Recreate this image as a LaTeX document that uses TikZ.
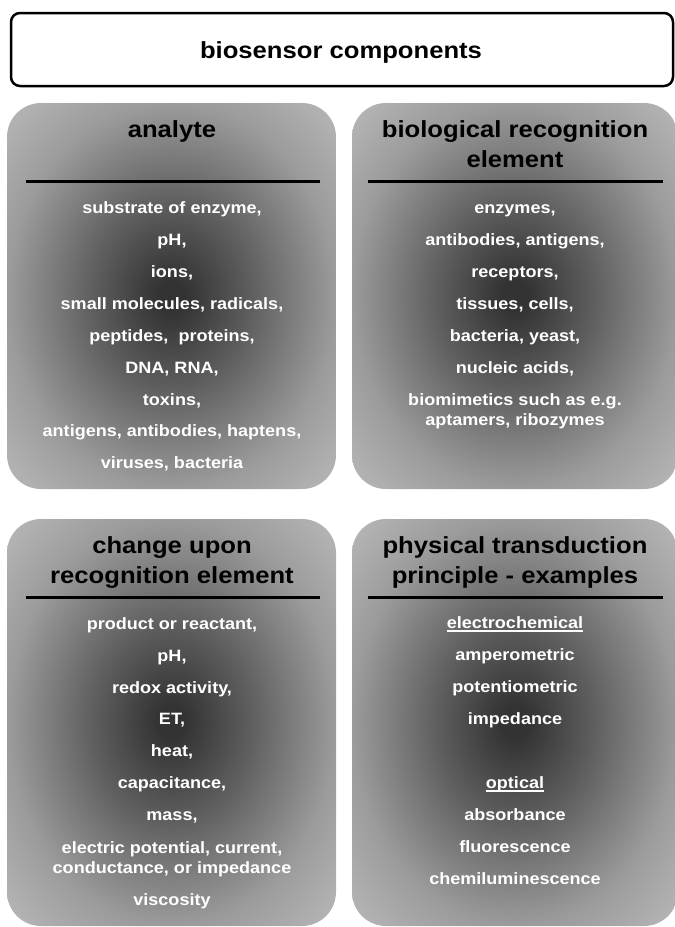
\documentclass[tikz,border=0pt]{standalone}
\usepackage{fontspec}
\setmainfont{Liberation Sans}[FakeStretch=1.1]
\definecolor{cin}{gray}{0.20}
\definecolor{cq}{gray}{0.37}
\definecolor{cmid}{gray}{0.61}
\definecolor{cout}{gray}{0.73}
\pgfdeclareradialshading{panelshade}{\pgfpoint{0bp}{0bp}}{color(0bp)=(cin); color(2bp)=(cin); color(12bp)=(cq); color(25bp)=(cmid); color(36bp)=(cout); color(50bp)=(cout)}
\tikzset{
  panel/.style={shading=panelshade, rounded corners=34pt},
  item/.style={text=white, font=\fontsize{16.4}{20}\selectfont\bfseries, anchor=base, inner sep=0pt},
  head/.style={text=black, font=\fontsize{23.3}{28}\selectfont\bfseries, anchor=base, inner sep=0pt},
  rule/.style={line width=3pt, black},
  uline/.style={white, line width=1.2pt}
}
\begin{document}
\begin{tikzpicture}[x=1pt,y=1pt]
\useasboundingbox (0,0) rectangle (675,-927);
% title
\draw[line width=2.5pt, rounded corners=9pt] (11,-13) rectangle (673,-86);
\node[head] (title) at (341,-58) {biosensor components};
% panels
\path[panel] (7,-103) rectangle (336,-489);
\path[panel] (352,-103) rectangle (678,-489);
\path[panel] (7,-519) rectangle (336,-926);
\path[panel] (352,-519) rectangle (678,-926);
% rules
\draw[rule] (26,-181) -- (320,-181);
\draw[rule] (368,-181) -- (663,-181);
\draw[rule] (26,-597) -- (320,-597);
\draw[rule] (368,-597) -- (663,-597);
% panel 1
\node[head] (h1) at (172,-137) {analyte};
\node[item] (a1) at (172,-213) {substrate of enzyme,};
\node[item] (a2) at (172,-245) {pH,};
\node[item] (a3) at (172,-277) {ions,};
\node[item] (a4) at (172,-309) {small molecules, radicals,};
\node[item] (a5) at (172,-341) {peptides,\ \ proteins,};
\node[item] (a6) at (172,-373) {DNA, RNA,};
\node[item] (a7) at (172,-405) {toxins,};
\node[item] (a8) at (172,-436) {antigens, antibodies, haptens,};
\node[item] (a9) at (172,-468) {viruses, bacteria};
% panel 2
\node[head] (h2a) at (515,-137) {biological recognition};
\node[head] (h2b) at (515,-167) {element};
\node[item] (b1) at (515,-213) {enzymes,};
\node[item] (b2) at (515,-245) {antibodies, antigens,};
\node[item] (b3) at (515,-277) {receptors,};
\node[item] (b4) at (515,-309) {tissues, cells,};
\node[item] (b5) at (515,-341) {bacteria, yeast,};
\node[item] (b6) at (515,-373) {nucleic acids,};
\node[item] (b7) at (515,-405) {biomimetics such as e.g.};
\node[item] (b8) at (515,-425) {aptamers, ribozymes};
% panel 3
\node[head] (h3a) at (172,-553) {change upon};
\node[head] (h3b) at (172,-583) {recognition element};
\node[item] (c1) at (172,-629) {product or reactant,};
\node[item] (c2) at (172,-661) {pH,};
\node[item] (c3) at (172,-693) {redox activity,};
\node[item] (c4) at (172,-724) {ET,};
\node[item] (c5) at (172,-756) {heat,};
\node[item] (c6) at (172,-788) {capacitance,};
\node[item] (c7) at (172,-820) {mass,};
\node[item] (c8) at (172,-853) {electric potential, current,};
\node[item] (c9) at (172,-873) {conductance, or impedance};
\node[item] (c10) at (172,-905) {viscosity};
% panel 4
\node[head] (h4a) at (515,-553) {physical transduction};
\node[head] (h4b) at (515,-583) {principle - examples};
\node[item] (d1) at (515,-628) {electrochemical};
\node[item] (d2) at (515,-660) {amperometric};
\node[item] (d3) at (515,-692) {potentiometric};
\node[item] (d4) at (515,-724) {impedance};
\node[item] (d5) at (515,-788) {optical};
\node[item] (d6) at (515,-820) {absorbance};
\node[item] (d7) at (515,-852) {fluorescence};
\node[item] (d8) at (515,-884) {chemiluminescence};
\draw[uline] ([yshift=-3pt]d1.base west) -- ([yshift=-3pt]d1.base east);
\draw[uline] ([yshift=-3pt]d5.base west) -- ([yshift=-3pt]d5.base east);
\end{tikzpicture}
\end{document}
